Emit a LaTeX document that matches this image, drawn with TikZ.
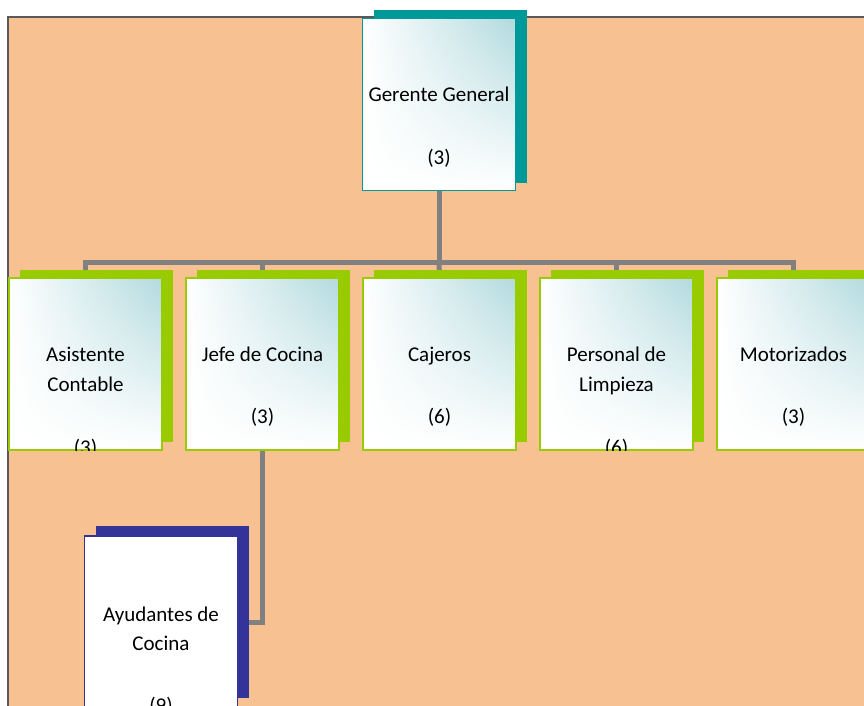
\documentclass[tikz,border=0pt]{standalone}
\usepackage{fontspec}
\setmainfont{Carlito}
\usetikzlibrary{shadings}
\definecolor{bgorange}{RGB}{248,193,145}
\definecolor{bordergray}{RGB}{89,89,89}
\definecolor{conngray}{RGB}{128,128,128}
\definecolor{tealc}{RGB}{0,153,153}
\definecolor{greenc}{RGB}{153,204,0}
\definecolor{navyc}{RGB}{51,51,153}
\definecolor{tealL}{RGB}{178,218,222}
\pgfdeclarelayer{bglayer}
\pgfdeclarelayer{background}
\pgfsetlayers{bglayer,background,main}
\begin{document}
\begin{tikzpicture}[x=1pt,y=-1pt,
  conn/.style={draw=conngray, line width=5pt},
  lbl/.style={font=\fontsize{21}{25}\selectfont, inner sep=0pt, anchor=base, text=black},
  boxbase/.style={line width=1.2pt, minimum width=153pt, minimum height=172pt, inner sep=0pt},
  shadebox/.style={boxbase, shade, upper right=tealL, upper left=white, lower left=white, lower right=white},
  gerbox/.style={shadebox, draw=tealc},
  greenbox/.style={shadebox, draw=greenc},
  navybox/.style={boxbase, draw=navyc, fill=white},
  shadow/.style={minimum width=153pt, minimum height=172pt, inner sep=0pt, draw=none, fill=#1}
]
\clip (0,0) rectangle (864,706);
\begin{pgfonlayer}{bglayer}
\fill[white] (0,0) rectangle (864,706);
\filldraw[fill=bgorange, draw=bordergray, line width=1.5pt] (8,17) rectangle (890,730);
\end{pgfonlayer}

% shadows
\node[shadow=tealc] (gers) at (450,96.5) {};
\node[shadow=greenc] (acs) at (96.5,356) {};
\node[shadow=greenc] (jcs) at (273.5,356) {};
\node[shadow=greenc] (cas) at (450.5,356) {};
\node[shadow=greenc] (pls) at (627.5,356) {};
\node[shadow=greenc] (mos) at (804.5,356) {};
\node[shadow=navyc] (ays) at (172,612) {};

% boxes
\node[gerbox] (ger) at (439,104.5) {};
\node[greenbox] (ac) at (85.5,364) {};
\node[greenbox] (jc) at (262.5,364) {};
\node[greenbox] (ca) at (439.5,364) {};
\node[greenbox] (pl) at (616.5,364) {};
\node[greenbox] (mo) at (793.5,364) {};
\node[navybox] (ay) at (161,622) {};

% connectors
\begin{pgfonlayer}{background}
\coordinate (bus) at (439,262);
\draw[conn] (ger.south) -- (bus);
\draw[conn] (bus) -| (ac.north);
\draw[conn] (bus) -| (jc.north);
\draw[conn] (bus) -- (ca.north);
\draw[conn] (bus) -| (pl.north);
\draw[conn] (bus) -| (mo.north);
\draw[conn] (jc.south) |- (ay.east);
\end{pgfonlayer}

% texts
\begin{scope}
\clip (ger.south west) rectangle (ger.north east);
\node[lbl] (ger1) at (439,102) {Gerente General};
\node[lbl] (ger2) at (439,164) {(3)};
\end{scope}
\begin{scope}
\clip (ac.south west) rectangle (ac.north east);
\node[lbl] (ac1) at (85.5,361) {Asistente};
\node[lbl] (ac2) at (85.5,391) {Contable};
\node[lbl] (ac3) at (85.5,454) {(3)};
\end{scope}
\begin{scope}
\clip (jc.south west) rectangle (jc.north east);
\node[lbl] (jc1) at (262.5,361) {Jefe de Cocina};
\node[lbl] (jc2) at (262.5,423) {(3)};
\end{scope}
\begin{scope}
\clip (ca.south west) rectangle (ca.north east);
\node[lbl] (ca1) at (439.5,361) {Cajeros};
\node[lbl] (ca2) at (439.5,423) {(6)};
\end{scope}
\begin{scope}
\clip (pl.south west) rectangle (pl.north east);
\node[lbl] (pl1) at (616.5,361) {Personal de};
\node[lbl] (pl2) at (616.5,391) {Limpieza};
\node[lbl] (pl3) at (616.5,454) {(6)};
\end{scope}
\begin{scope}
\clip (mo.south west) rectangle (mo.north east);
\node[lbl] (mo1) at (793.5,361) {Motorizados};
\node[lbl] (mo2) at (793.5,423) {(3)};
\end{scope}
\begin{scope}
\clip (ay.south west) rectangle (ay.north east);
\node[lbl] (ay1) at (161,621) {Ayudantes de};
\node[lbl] (ay2) at (161,650) {Cocina};
\node[lbl] (ay3) at (161,712) {(9)};
\end{scope}
\end{tikzpicture}
\end{document}
